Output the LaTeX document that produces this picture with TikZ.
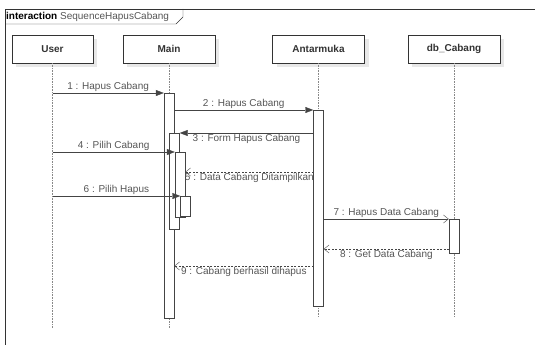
\documentclass[tikz,border=0pt]{standalone}
\usepackage{fontspec}
\setmainfont{Liberation Sans}
\usetikzlibrary{arrows.meta,shadows}
\definecolor{framegray}{HTML}{333333}
\definecolor{linegray}{HTML}{444444}
\definecolor{textgray}{HTML}{555555}
\definecolor{lifegray}{HTML}{888888}
\tikzset{
  head/.style={draw=framegray, fill=white, minimum width=92pt, minimum height=28pt, font=\bfseries, text=framegray,
    drop shadow={shadow xshift=4pt, shadow yshift=-4pt, fill=black!9, opacity=1}},
  act/.style={draw=linegray, fill=white, minimum width=10pt, inner sep=0pt, anchor=north},
  life/.style={lifegray, densely dotted, semithick},
  call/.style={-{Triangle[length=8pt,width=6pt]}, linegray},
  async/.style={-{Straight Barb[length=5pt,width=8pt]}, linegray},
  reply/.style={-{Straight Barb[length=5pt,width=8pt]}, linegray, dashed, dash pattern=on 2pt off 1.5pt},
  lbl/.style={text=textgray, inner sep=1.5pt}
}

\begin{document}
\begin{tikzpicture}[x=1pt, y=-1pt]
  \useasboundingbox (0,0) rectangle (535,345);

  % frame
  \draw[framegray] (5,345) -- (5,9) -- (535,9);
  \draw[framegray] (5,24) -- (176,24) -- (183,17) -- (183,9);
  \node[anchor=west, inner sep=0pt] (title) at (6,16.5) {\textbf{interaction} \textcolor{textgray}{SequenceHapusCabang}};

  % lifelines
  \node[head, minimum width=81pt] (user) at (52.5,49) {User};
  \node[head] (main) at (169,49) {Main};
  \node[head] (antarmuka) at (318.5,49) {Antarmuka};
  \node[head] (db) at (454,49) {db\_Cabang};

  \coordinate (userend) at (52.5,328);
  \coordinate (mainend) at (169,328);
  \coordinate (antend) at (318.5,317);
  \coordinate (dbend) at (454,317);
  \draw[life] (user) -- (userend);
  \draw[life] (main) -- (mainend);
  \draw[life] (antarmuka) -- (antend);
  \draw[life] (db) -- (dbend);

  % activations
  \node[act, minimum height=225pt] (mainact) at (169,93) {};
  \node[act, minimum height=196pt] (antact) at (318.5,110) {};
  \node[act, minimum height=96pt] (actA) at (174.5,133) {};
  \node[act, minimum height=65pt] (actB) at (180,152) {};
  \node[act, minimum height=20pt] (actC) at (185.5,196) {};
  \node[act, minimum height=34pt] (dbact) at (454,219) {};

  % messages
  \coordinate (r5) at (313.5,172);
  \coordinate (r8) at (449,249);
  \coordinate (r9) at (313.5,266);

  \draw[call] (user |- mainact.north) -- node[lbl, above] {1 : Hapus Cabang} (mainact.north west);
  \draw[call] (mainact.east |- antact.north) -- node[lbl, above] {2 : Hapus Cabang} (antact.north west);
  \draw[call] (antact.west |- actA.north) -- node[lbl, below] {3 : Form Hapus Cabang} (actA.north east);
  \draw[call] (user |- actB.north) -- node[lbl, above] {4 : Pilih Cabang} (actB.north west);
  \draw[reply] (r5) -- node[lbl, below] {5 : Data Cabang Ditampilkan} (actB.east |- r5);
  \draw[call] (user |- actC.north) -- node[lbl, above] {6 : Pilih Hapus} (actC.north west);
  \draw[async] (antact.east |- dbact.north) -- node[lbl, above] {7 : Hapus Data Cabang} (dbact.north west);
  \draw[reply] (r8) -- node[lbl, below] {8 : Get Data Cabang} (antact.east |- r8);
  \draw[reply] (r9) -- node[lbl, below] {9 : Cabang berhasil dihapus} (mainact.east |- r9);
\end{tikzpicture}
\end{document}
